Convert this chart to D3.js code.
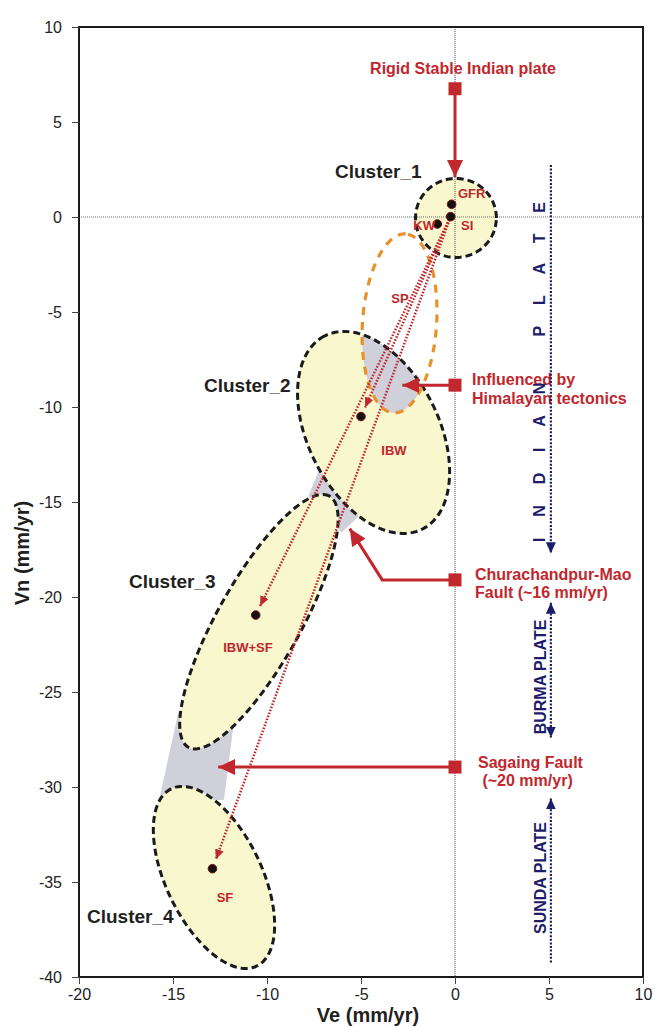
<!DOCTYPE html>
<html>
<head>
<meta charset="utf-8">
<script src="https://cdn.jsdelivr.net/npm/d3@7"></script>
<style>
  html, body { margin: 0; padding: 0; background: #fff; }
  svg { display: block; font-family: "Liberation Sans", Arial, sans-serif; }
</style>
</head>
<body>
<svg id="chart" width="657" height="1027"></svg>
<script>
// ---- axis ticks ----
const xTicks = [-20, -15, -10, -5, 0, 5, 10];
const yTicks = [-40, -35, -30, -25, -20, -15, -10, -5, 0, 5, 10];

// ---- cluster confidence ellipses (Ve, Vn in mm/yr; tilt in degrees from +Ve) ----
const clusterNames = ["Cluster_1", "Cluster_2", "Cluster_3", "Cluster_4"];
const clusterVe    = [0.05, -4.33, -10.43, -12.82];
const clusterVn    = [-0.05, -11.34, -21.3, -34.76];
const clusterMajor = [2.15, 5.71, 7.6, 5.19];
const clusterMinor = [2.08, 3.47, 2.2, 2.54];
const clusterTilt  = [0, 117.3, 60.4, 116.1];

// Shillong Plateau zone
const spEllipse = { ve: -2.95, vn: -5.6, major: 4.72, minor: 1.97, tilt: 86 };

// transition zones between neighbouring clusters (Ve, Vn vertices)
const bridge23Ve = [-7.0, -7.8, -6.05, -5.1];
const bridge23Vn = [-12.75, -14.7, -16.6, -15.75];
const bridge34Ve = [-14.7, -11.76, -12.29, -15.74];
const bridge34Vn = [-26.0, -26.58, -30.68, -30.68];

// reference stations in Cluster_1
const stationNames = ["GFR", "SI", "KW"];
const stationVe    = [-0.18, -0.23, -0.94];
const stationVn    = [0.67, 0.02, -0.37];

// mean velocities of the other clusters
const meanNames = ["IBW", "IBW+SF", "SF"];
const meanVe    = [-5.0, -10.6, -12.9];
const meanVn    = [-10.5, -20.95, -34.3];

// annotated features: marker on Ve = 0 and arrow pointing at the zone
const featureLines = [
  ["Rigid Stable Indian plate"],
  ["Influenced by", "Himalayan tectonics"],
  ["Churachandpur-Mao", "Fault (~16 mm/yr)"],
  ["Sagaing Fault", " (~20 mm/yr)"]
];
const featureVn   = [6.75, -8.85, -19.1, -28.95];
const featureBend = [null, null, [-3.87, -19.1], null];
const featureTip  = [[0, 2.1], [-2.8, -8.85], [-5.6, -16.4], [-12.6, -28.95]];

// plate extents along Ve = 5
const plateNames  = ["INDIAN PLATE", "BURMA PLATE", "SUNDA PLATE"];
const plateVe     = 5.1;
const plateTop    = [2.74, -20.3, -30.6];
const plateBottom = [-17.7, -27.4, -39.3];
const plateHeads  = [["end"], ["start", "end"], ["start"]];

// ---- layout ----
const RED = "#c1272d", NAVY = "#1c1c6a", INK = "#231f20";
const YELLOW = "#f8f7cd", GRAY = "#d0d0da";
const svg = d3.select("#chart");
const x = d3.scaleLinear().domain([-20, 10]).range([79, 643]);
const y = d3.scaleLinear().domain([-40, 10]).range([977, 27]);

const defs = svg.append("defs");
function marker(id, color, len, wid) {
  defs.append("marker")
    .attr("id", id).attr("markerUnits", "userSpaceOnUse")
    .attr("viewBox", `0 0 ${len} ${wid}`)
    .attr("markerWidth", len).attr("markerHeight", wid)
    .attr("refX", len).attr("refY", wid / 2)
    .attr("orient", "auto-start-reverse")
    .append("path").attr("d", `M0,0L${len},${wid / 2}L0,${wid}Z`).attr("fill", color);
}
marker("headRed", RED, 17, 16);
marker("headRedSmall", RED, 10, 9);
marker("headNavy", NAVY, 11, 10);

function ellipsePath(ve, vn, a, b, tiltDeg) {
  const th = tiltDeg * Math.PI / 180, pts = [];
  for (let i = 0; i < 120; i++) {
    const t = i / 120 * 2 * Math.PI;
    const px = ve + a * Math.cos(t) * Math.cos(th) - b * Math.sin(t) * Math.sin(th);
    const py = vn + a * Math.cos(t) * Math.sin(th) + b * Math.sin(t) * Math.cos(th);
    pts.push([x(px), y(py)]);
  }
  return d3.line().curve(d3.curveLinearClosed)(pts);
}
const clusters = clusterNames.map((n, i) => ({
  name: n, d: ellipsePath(clusterVe[i], clusterVn[i], clusterMajor[i], clusterMinor[i], clusterTilt[i])
}));
const spPath = ellipsePath(spEllipse.ve, spEllipse.vn, spEllipse.major, spEllipse.minor, spEllipse.tilt);

defs.append("clipPath").attr("id", "clipC2").append("path").attr("d", clusters[1].d);

// transition zones
const polyLine = d3.line().curve(d3.curveLinearClosed);
[[bridge23Ve, bridge23Vn], [bridge34Ve, bridge34Vn]].forEach(([ve, vn]) => {
  svg.append("path")
    .attr("d", polyLine(ve.map((v, i) => [x(v), y(vn[i])])))
    .attr("fill", GRAY);
});

// ellipse fills
svg.selectAll("path.fill").data(clusters).join("path")
  .attr("class", "fill").attr("d", d => d.d).attr("fill", YELLOW);

// overlap of the Shillong Plateau zone with Cluster_2
svg.append("path").attr("d", spPath).attr("fill", GRAY).attr("clip-path", "url(#clipC2)");

// zero lines
svg.append("line").attr("x1", x(0)).attr("x2", x(0)).attr("y1", y(10)).attr("y2", y(-40))
  .attr("stroke", "#666").attr("stroke-width", 1.2).attr("stroke-dasharray", "1,1");
svg.append("line").attr("x1", x(-20)).attr("x2", x(10)).attr("y1", y(0)).attr("y2", y(0))
  .attr("stroke", "#666").attr("stroke-width", 1.2).attr("stroke-dasharray", "1,1");

// ellipse outlines
svg.selectAll("path.outline").data(clusters).join("path")
  .attr("class", "outline").attr("d", d => d.d).attr("fill", "none")
  .attr("stroke", "#1a1a1a").attr("stroke-width", 3).attr("stroke-dasharray", "7,4");
svg.append("path").attr("d", spPath).attr("fill", "none")
  .attr("stroke", "#e8902a").attr("stroke-width", 3.2).attr("stroke-dasharray", "8,7");

// velocity vectors from Cluster_1 (station SI) to the other clusters
const start = [x(stationVe[1]), y(stationVn[1])];
meanNames.forEach((n, i) => {
  const end = [x(meanVe[i]), y(meanVn[i])];
  const dx = end[0] - start[0], dy = end[1] - start[1];
  const len = Math.hypot(dx, dy), k = (len - 10) / len;
  svg.append("line")
    .attr("x1", start[0]).attr("y1", start[1])
    .attr("x2", start[0] + dx * k).attr("y2", start[1] + dy * k)
    .attr("stroke", RED).attr("stroke-width", 2.5).attr("stroke-dasharray", "1.6,1.6")
    .attr("marker-end", "url(#headRedSmall)");
});

// mean velocity points and stations
const dots = meanNames.map((n, i) => [meanVe[i], meanVn[i]])
  .concat(stationNames.map((n, i) => [stationVe[i], stationVn[i]]));
svg.selectAll("circle.pt").data(dots).join("circle")
  .attr("class", "pt").attr("cx", d => x(d[0])).attr("cy", d => y(d[1])).attr("r", 4.3)
  .attr("fill", "#111").attr("stroke", "#7a0d10").attr("stroke-width", 1);

// station labels
const stationLabelPos = [[458, 198, "start"], [461, 230, "start"], [435, 230, "end"]];
stationNames.forEach((n, i) => {
  svg.append("text").attr("x", stationLabelPos[i][0]).attr("y", stationLabelPos[i][1])
    .attr("text-anchor", stationLabelPos[i][2])
    .attr("font-size", 13).attr("font-weight", "bold").attr("fill", RED).text(n);
});

// zone labels
const zoneLabels = [["SP", 400, 303], ["IBW", 394, 455], ["IBW+SF", 248, 652], ["SF", 225, 902]];
zoneLabels.forEach(([t, px, py]) => {
  svg.append("text").attr("x", px).attr("y", py).attr("text-anchor", "middle")
    .attr("font-size", 13).attr("font-weight", "bold").attr("fill", RED).text(t);
});

// cluster labels
const clusterLabelPos = [[335, 178], [204, 392], [129, 588], [87, 923]];
clusterNames.forEach((n, i) => {
  svg.append("text").attr("x", clusterLabelPos[i][0]).attr("y", clusterLabelPos[i][1])
    .attr("font-size", 19).attr("font-weight", "bold").attr("fill", INK).text(n);
});

// annotated features
featureLines.forEach((lines, i) => {
  const pts = [[x(0), y(featureVn[i])]];
  if (featureBend[i]) pts.push([x(featureBend[i][0]), y(featureBend[i][1])]);
  pts.push([x(featureTip[i][0]), y(featureTip[i][1])]);
  svg.append("path").attr("d", d3.line()(pts)).attr("fill", "none")
    .attr("stroke", RED).attr("stroke-width", 3).attr("marker-end", "url(#headRed)");
  svg.append("rect").attr("x", x(0) - 6.5).attr("y", y(featureVn[i]) - 6.5)
    .attr("width", 13).attr("height", 13).attr("fill", RED);
});
const featureTextPos = [
  [[463, 74, "middle"]],
  [[472, 385, "start"], [472, 404, "start"]],
  [[475, 580, "start"], [475, 598, "start"]],
  [[478, 768, "start"], [478, 786, "start"]]
];
featureLines.forEach((lines, i) => {
  lines.forEach((t, j) => {
    const p = featureTextPos[i][j];
    svg.append("text").attr("x", p[0]).attr("y", p[1]).attr("text-anchor", p[2])
      .attr("font-size", 16).attr("font-weight", "bold").attr("fill", RED)
      .attr("xml:space", "preserve").text(t);
  });
});

// plate extents
plateNames.forEach((n, i) => {
  const l = svg.append("line")
    .attr("x1", x(plateVe)).attr("x2", x(plateVe))
    .attr("y1", y(plateTop[i])).attr("y2", y(plateBottom[i]))
    .attr("stroke", NAVY).attr("stroke-width", 2.2).attr("stroke-dasharray", "2,1.6");
  if (plateHeads[i].includes("end")) l.attr("marker-end", "url(#headNavy)");
  if (plateHeads[i].includes("start")) l.attr("marker-start", "url(#headNavy)");
});
// INDIAN PLATE text is spread along its whole extent
svg.append("text")
  .attr("transform", `translate(545,542) rotate(-90)`)
  .attr("font-size", 16).attr("font-weight", "bold").attr("fill", NAVY)
  .attr("textLength", 340).attr("lengthAdjust", "spacing")
  .text(plateNames[0]);
[[1, 677], [2, 878]].forEach(([i, cy]) => {
  svg.append("text")
    .attr("transform", `translate(546,${cy}) rotate(-90)`)
    .attr("text-anchor", "middle")
    .attr("font-size", 16).attr("font-weight", "bold").attr("fill", NAVY)
    .text(plateNames[i]);
});

// ---- axes and frame ----
svg.append("rect").attr("x", x(-20)).attr("y", y(10))
  .attr("width", x(10) - x(-20)).attr("height", y(-40) - y(10))
  .attr("fill", "none").attr("stroke", "#1a1a1a").attr("stroke-width", 2);

const xAxis = svg.append("g").attr("transform", `translate(0,${y(-40)})`)
  .call(d3.axisBottom(x).tickValues(xTicks).tickSize(7).tickPadding(5).tickFormat(d3.format("d")));
const yAxis = svg.append("g").attr("transform", `translate(${x(-20)},0)`)
  .call(d3.axisLeft(y).tickValues(yTicks).tickSize(7).tickPadding(10).tickFormat(d3.format("d")));
[xAxis, yAxis].forEach(g => {
  g.select(".domain").remove();
  g.selectAll(".tick line").attr("stroke", "#444").attr("stroke-width", 1);
  g.selectAll(".tick text").attr("font-size", 16).attr("fill", "#222")
    .attr("font-family", "'Liberation Sans', Arial, sans-serif")
    .text(d => d < 0 ? "-" + Math.abs(d) : d);
});

svg.append("text").attr("x", 368).attr("y", 1022).attr("text-anchor", "middle")
  .attr("font-size", 20).attr("font-weight", "bold").attr("fill", INK).text("Ve (mm/yr)");
svg.append("text").attr("transform", "translate(29,553) rotate(-90)").attr("text-anchor", "middle")
  .attr("font-size", 20).attr("font-weight", "bold").attr("fill", INK).text("Vn (mm/yr)");
</script>
</body>
</html>
